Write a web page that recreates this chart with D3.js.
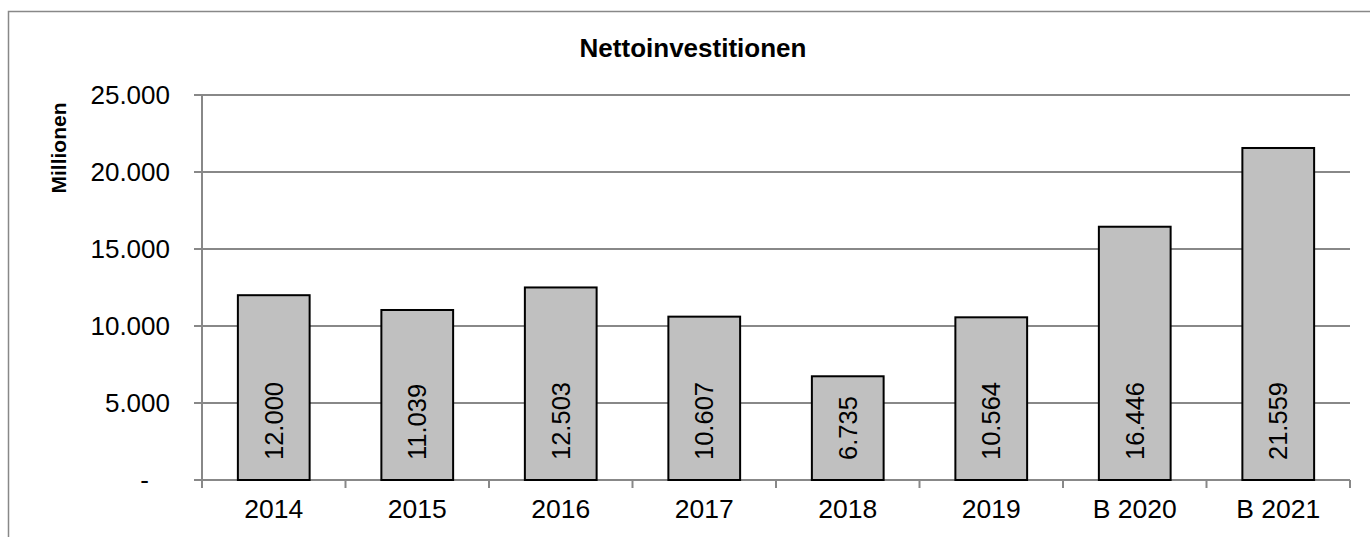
<!DOCTYPE html>
<html>
<head>
<meta charset="utf-8">
<script src="https://cdn.jsdelivr.net/npm/d3@7"></script>
<style>
  body { margin: 0; background: #fff; }
  svg { font-family: "Liberation Sans", Arial, sans-serif; }
</style>
</head>
<body>
<svg width="1370" height="537"></svg>
<script>
var categories = ["2014", "2015", "2016", "2017", "2018", "2019", "B 2020", "B 2021"];
var values = [12000, 11039, 12503, 10607, 6735, 10564, 16446, 21559];
var yTicks = [0, 5000, 10000, 15000, 20000, 25000];
var title = "Nettoinvestitionen";
var yTitle = "Millionen";

var svg = d3.select("svg"),
    margin = { top: 95, right: 20, bottom: 57, left: 202 },
    width = 1350 - margin.left,
    height = 480 - margin.top;

// outer frame (runs off the right and bottom edge)
svg.append("rect")
    .attr("x", 8.5).attr("y", 11.5)
    .attr("width", 1400).attr("height", 600)
    .attr("fill", "none")
    .attr("stroke", "#888")
    .attr("stroke-width", 1.5);

var g = svg.append("g")
    .attr("transform", "translate(" + margin.left + "," + margin.top + ")");

var fmt = function(v) {
    return v === 0 ? "-" : d3.format(",")(v).replace(/,/g, ".");
};

var x = d3.scaleBand()
    .domain(categories)
    .range([0, width])
    .paddingInner(0.5)
    .paddingOuter(0.25);

var xOuter = d3.scaleBand().domain(categories).range([0, width]);

var y = d3.scaleLinear()
    .domain([0, 25000])
    .range([height, 0]);

// gridlines
g.selectAll(".grid")
    .data(yTicks)
    .enter().append("line")
    .attr("x1", -8)
    .attr("x2", width)
    .attr("y1", function(d) { return y(d); })
    .attr("y2", function(d) { return y(d); })
    .attr("stroke", "#888")
    .attr("stroke-width", 2);

// y axis line
g.append("line")
    .attr("x1", 0).attr("x2", 0)
    .attr("y1", 0).attr("y2", height)
    .attr("stroke", "#888")
    .attr("stroke-width", 2);

// x ticks at category boundaries
var xt = categories.map(function(c) { return xOuter(c); }).concat([width]);
g.selectAll(".xtick")
    .data(xt)
    .enter().append("line")
    .attr("x1", function(d) { return d; })
    .attr("x2", function(d) { return d; })
    .attr("y1", height)
    .attr("y2", height + 8)
    .attr("stroke", "#888")
    .attr("stroke-width", 2);

// y tick labels
g.selectAll(".ylab")
    .data(yTicks)
    .enter().append("text")
    .attr("x", function(d) { return d === 0 ? -53 : -32; })
    .attr("y", function(d) { return y(d); })
    .attr("dy", "0.35em")
    .attr("text-anchor", "end")
    .attr("font-size", 26)
    .attr("fill", "#000")
    .text(fmt);

// x labels
g.selectAll(".xlab")
    .data(categories)
    .enter().append("text")
    .attr("x", function(d) { return xOuter(d) + xOuter.bandwidth() / 2; })
    .attr("y", height + 38)
    .attr("text-anchor", "middle")
    .attr("font-size", 26.5)
    .attr("fill", "#000")
    .text(function(d) { return d; });

// bars
g.selectAll(".bar")
    .data(values)
    .enter().append("rect")
    .attr("x", function(d, i) { return x(categories[i]); })
    .attr("y", function(d) { return y(d); })
    .attr("width", x.bandwidth())
    .attr("height", function(d) { return height - y(d); })
    .attr("fill", "#c0c0c0")
    .attr("stroke", "#000")
    .attr("stroke-width", 2);

// value labels, rotated inside bars
g.selectAll(".vlab")
    .data(values)
    .enter().append("text")
    .attr("transform", function(d, i) {
        return "translate(" + (x(categories[i]) + x.bandwidth() / 2) + "," + (height - 20) + ") rotate(-90)";
    })
    .attr("dy", "0.35em")
    .attr("text-anchor", "start")
    .attr("font-size", 25.5)
    .attr("fill", "#000")
    .text(fmt);

// title
svg.append("text")
    .attr("x", 693)
    .attr("y", 57)
    .attr("text-anchor", "middle")
    .attr("font-size", 26)
    .attr("font-weight", "bold")
    .text(title);

// y axis title
svg.append("text")
    .attr("transform", "translate(66,148) rotate(-90)")
    .attr("text-anchor", "middle")
    .attr("font-size", 21)
    .attr("font-weight", "bold")
    .text(yTitle);
</script>
</body>
</html>
